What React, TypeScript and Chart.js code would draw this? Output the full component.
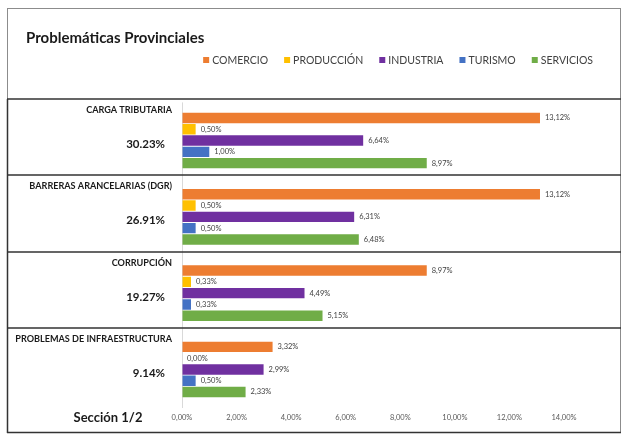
import React, { useEffect, useRef } from "react";
import { Chart, registerables } from "chart.js";

Chart.register(...registerables);

const title = "Problemáticas Provinciales";
const sectionLabel = "Sección 1/2";
const categories = [
  "CARGA TRIBUTARIA",
  "BARRERAS ARANCELARIAS (DGR)",
  "CORRUPCIÓN",
  "PROBLEMAS DE INFRAESTRUCTURA",
];
const totals = ["30.23%", "26.91%", "19.27%", "9.14%"];
const seriesNames = ["COMERCIO", "PRODUCCIÓN", "INDUSTRIA", "TURISMO", "SERVICIOS"];
const comercio = [13.12, 13.12, 8.97, 3.32];
const produccion = [0.5, 0.5, 0.33, 0.0];
const industria = [6.64, 6.31, 4.49, 2.99];
const turismo = [1.0, 0.5, 0.33, 0.5];
const servicios = [8.97, 6.48, 5.15, 2.33];
const seriesValues = [comercio, produccion, industria, turismo, servicios];
const seriesColors = ["#ED7D31", "#FFC000", "#7030A0", "#4472C4", "#70AD47"];
const xMin = 0;
const xMax = 14;
const xStep = 2;

const FONT = "Lato, 'Open Sans', sans-serif";

const fmt = (v: number) => v.toFixed(2).replace(".", ",") + "%";

const decorPlugin = {
  id: "decor",
  afterDraw(chart: any) {
    const ctx = chart.ctx as CanvasRenderingContext2D;
    const area = chart.chartArea;
    const y = chart.scales.y;
    const W = chart.width;
    const H = chart.height;
    const frameL = 7;
    const frameR = W - 11;
    const frameT = 8;
    const frameB = H - 13;
    const n = categories.length;
    const pitch = (area.bottom - area.top) / n;

    ctx.save();
    // data labels
    ctx.font = `7.5px ${FONT}`;
    ctx.fillStyle = "#404040";
    ctx.textAlign = "left";
    ctx.textBaseline = "middle";
    chart.data.datasets.forEach((ds: any, di: number) => {
      const meta = chart.getDatasetMeta(di);
      meta.data.forEach((bar: any, i: number) => {
        ctx.fillText(fmt(ds.data[i]), bar.x + 5, bar.y);
      });
    });

    // frame
    ctx.strokeStyle = "#8c8c8c";
    ctx.lineWidth = 1;
    ctx.strokeRect(frameL + 0.5, frameT + 0.5, frameR - frameL, frameB - frameT);

    // separators
    const seps: number[] = [];
    for (let i = 0; i < n; i++) {
      const c = y.getPixelForValue(i);
      seps.push(Math.round(c - pitch / 2 - 3.5));
    }
    ctx.strokeStyle = "#333333";
    ctx.lineWidth = 1.5;
    ctx.beginPath();
    seps.forEach((s) => {
      ctx.moveTo(frameL, s);
      ctx.lineTo(frameR + 1, s);
    });
    ctx.moveTo(frameL + 0.5, seps[0]);
    ctx.lineTo(frameL + 0.5, frameB + 1);
    ctx.moveTo(frameL, frameB + 0.5);
    ctx.lineTo(frameR + 1, frameB + 0.5);
    ctx.stroke();

    // category labels and totals
    ctx.fillStyle = "#1a1a1a";
    ctx.textAlign = "right";
    ctx.textBaseline = "middle";
    seps.forEach((s, i) => {
      ctx.font = `bold 9.1px ${FONT}`;
      ctx.fillText(categories[i], area.left - 10, s + 11);
      ctx.font = `bold 11.5px ${FONT}`;
      ctx.fillText(totals[i], area.left - 17, s + 45);
    });

    // section label
    ctx.font = `bold 13px ${FONT}`;
    ctx.textAlign = "center";
    ctx.fillText(sectionLabel, 108, 418);

    // title
    ctx.font = `bold 15px ${FONT}`;
    ctx.textAlign = "left";
    ctx.fillText(title, 26, 38);

    // legend (right aligned)
    ctx.font = `10.5px ${FONT}`;
    const box = 6;
    const gapText = 3;
    const gapItem = 16;
    const widths = chart.data.datasets.map((ds: any) => box + gapText + ctx.measureText(ds.label).width);
    const total = widths.reduce((a: number, b: number) => a + b, 0) + gapItem * (widths.length - 1);
    let lx = 593 - total;
    const ly = 60;
    chart.data.datasets.forEach((ds: any, di: number) => {
      ctx.fillStyle = ds.backgroundColor;
      ctx.fillRect(lx, ly - box / 2, box, box);
      ctx.fillStyle = "#404040";
      ctx.textAlign = "left";
      ctx.fillText(ds.label, lx + box + gapText, ly + 0.5);
      lx += widths[di] + gapItem;
    });
    ctx.restore();
  },
};

export default function App() {
  const ref = useRef<HTMLCanvasElement | null>(null);
  useEffect(() => {
    if (!ref.current) return;
    const chart = new Chart(ref.current, {
      type: "bar",
      data: {
        labels: categories,
        datasets: seriesNames.map((name, i) => ({
          label: name,
          data: seriesValues[i],
          backgroundColor: seriesColors[i],
          borderWidth: 0,
          categoryPercentage: 0.74,
          barPercentage: 0.92,
        })),
      },
      options: {
        indexAxis: "y",
        responsive: false,
        animation: false,
        layout: { padding: { left: 182, right: 67, top: 102.4, bottom: 18.4 } },
        plugins: {
          legend: { display: false },
          title: { display: false },
          tooltip: { enabled: false },
        },
        scales: {
          x: {
            min: xMin,
            max: xMax,
            border: { display: false },
            grid: {
              drawTicks: false,
              color: (c: any) => (c.tick && c.tick.value === 0 ? "#d9d9d9" : "rgba(0,0,0,0)"),
            },
            ticks: {
              stepSize: xStep,
              padding: 5,
              color: "#595959",
              font: { family: FONT, size: 7.5 },
              callback: (v: any) => fmt(Number(v)),
            },
          },
          y: { display: false },
        },
      },
      plugins: [decorPlugin],
    });
    return () => chart.destroy();
  }, []);
  return (
    <div style={{ position: "absolute", left: 0, top: 0, width: 631, height: 445, background: "#fff" }}>
      <canvas ref={ref} width={631} height={445} />
    </div>
  );
}
